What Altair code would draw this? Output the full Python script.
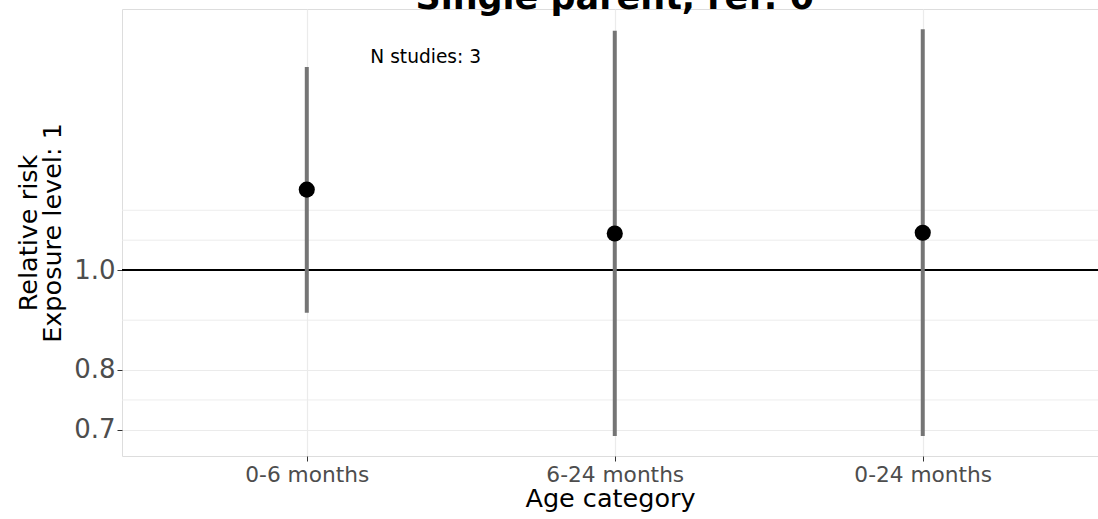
import json
import altair as alt
import pandas as pd

# ---- data ----
categories = ["0-6 months", "6-24 months", "0-24 months"]
estimates = [1.197, 1.085, 1.087]
lower = [0.909, 0.690, 0.690]
upper = [1.574, 1.707, 1.713]
y_major = [0.7, 0.8, 1.0]
y_minor = [0.748, 0.894, 1.069, 1.143]
ref_value = [1.0]
annotation = ["N studies: 3"]
annotation_pos = [1.386]
annotation_y = [1.609]
title_text = ["Single parent, ref: 0"]

df = pd.DataFrame({
    "cat": categories,
    "pos": list(range(1, len(categories) + 1)),
    "est": estimates,
    "lo": lower,
    "hi": upper,
})
minor_df = pd.DataFrame({"v": y_minor})
ref_df = pd.DataFrame({"v": ref_value})
ann_df = pd.DataFrame({"t": annotation, "pos": annotation_pos, "v": annotation_y})
title_df = pd.DataFrame({"t": title_text, "pos": [(1 + len(categories)) / 2]})

FONT = "DejaVu Sans"
label_expr = json.dumps(categories) + "[datum.value - 1]"

x_scale = alt.Scale(domain=[0.4, 3.569], nice=False, zero=False)
y_scale = alt.Scale(type="log", domain=[0.660, 1.792], nice=False)

x_axis = alt.Axis(values=[1, 2, 3], labelExpr=label_expr, grid=True,
                  gridColor="#ebebeb", gridWidth=1.2, domain=False,
                  tickColor="#333333", tickSize=5, tickWidth=1,
                  labelFontSize=21.7, labelColor="#4d4d4d", labelFont=FONT,
                  labelPadding=3, title="Age category", titleFontSize=25.5,
                  titleFontWeight="normal", titleColor="black", titleFont=FONT,
                  titlePadding=1)
y_axis = alt.Axis(values=y_major, format=".1f", grid=True,
                  gridColor="#ebebeb", gridWidth=1.2, domain=False,
                  tickColor="#333333", tickSize=5, tickWidth=1,
                  labelFontSize=26, labelColor="#4d4d4d", labelFont=FONT,
                  labelPadding=2,
                  title=["Relative risk", "Exposure level: 1"],
                  titleFontSize=25.5, titleFontWeight="normal",
                  titleColor="black", titleFont=FONT, titleLineHeight=24,
                  titleAngle=270, titleX=-94, titleY=223.5,
                  titleBaseline="middle", titleAlign="center")


def X(field):
    return alt.X(f"{field}:Q", scale=x_scale, axis=x_axis)


def Y(field):
    return alt.Y(f"{field}:Q", scale=y_scale, axis=y_axis)


minor = alt.Chart(minor_df).mark_rule(color="#ebebeb", strokeWidth=0.9).encode(
    y=Y("v"))
ref = alt.Chart(ref_df).mark_rule(color="black", strokeWidth=2).encode(y=Y("v"))
bars = alt.Chart(df).mark_rule(color="#757575", strokeWidth=4).encode(
    x=X("pos"), y=Y("lo"), y2="hi")
points = alt.Chart(df).mark_circle(size=260, color="black", opacity=1).encode(
    x=X("pos"), y=Y("est"))
ann = alt.Chart(ann_df).mark_text(fontSize=18.6, font=FONT, color="black",
                                  align="center", baseline="middle").encode(
    x=X("pos"), y=Y("v"), text="t:N")
title = alt.Chart(title_df).mark_text(fontSize=35, font=FONT, fontWeight="bold",
                                      color="black", align="center",
                                      baseline="alphabetic").encode(
    x=X("pos"), y=alt.value(0), text="t:N")

chart = alt.layer(minor, ref, bars, points, ann, title).properties(
    width=976, height=447,
    autosize=alt.AutoSizeParams(type="none"),
    padding={"left": 122, "top": 9, "right": 0, "bottom": 63},
).configure_view(stroke="#333333", strokeWidth=1).configure(font=FONT)

chart.save("out.html", embed_options={
    "renderer": "svg", "actions": False,
    "defaultStyle": "html{overflow:hidden} body{margin:0}"
                    " .vega-embed svg{overflow:visible;display:block}"})
